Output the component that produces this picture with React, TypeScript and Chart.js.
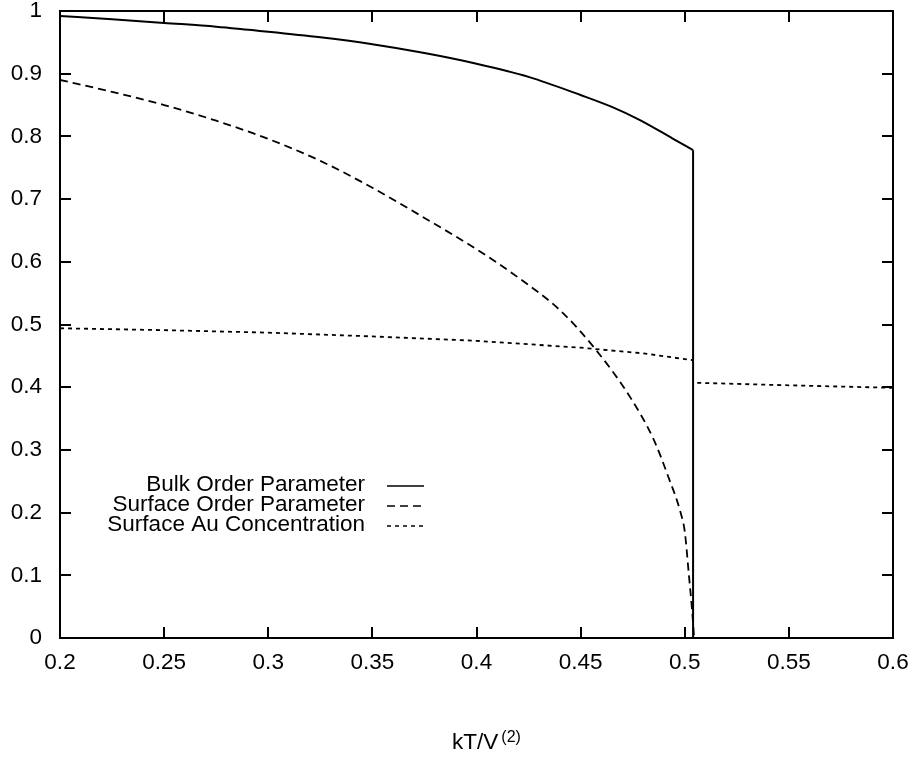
import React, { useEffect, useRef } from "react";
import { Chart, registerables } from "chart.js";

Chart.register(...registerables);

// ---- data ----
const xTicks = [0.2, 0.25, 0.3, 0.35, 0.4, 0.45, 0.5, 0.55, 0.6];
const yTicks = [0, 0.1, 0.2, 0.3, 0.4, 0.5, 0.6, 0.7, 0.8, 0.9, 1];
const seriesNames = [
  "Bulk Order Parameter",
  "Surface Order Parameter",
  "Surface Au Concentration",
];
const xTitle = "kT/V";
const xTitleSup = "(2)";

// bulk order parameter: smooth branch, then the vertical drop at the transition
const bulkX = [0.2, 0.225, 0.25, 0.275, 0.3, 0.325, 0.35, 0.375, 0.4, 0.425, 0.45, 0.465, 0.4785, 0.494, 0.504];
const bulkY = [0.992, 0.987, 0.981, 0.975, 0.967, 0.958, 0.947, 0.933, 0.916, 0.895, 0.866, 0.847, 0.826, 0.797, 0.778];
const bulkDropX = [0.504, 0.504];
const bulkDropY = [0.778, 0];

const surfX = [0.2, 0.225, 0.25, 0.275, 0.3, 0.325, 0.35, 0.375, 0.4, 0.42, 0.44, 0.457, 0.474, 0.485, 0.492, 0.498, 0.5, 0.502, 0.5035, 0.5045];
const surfY = [0.89, 0.871, 0.85, 0.825, 0.796, 0.761, 0.718, 0.67, 0.62, 0.575, 0.523, 0.461, 0.383, 0.317, 0.258, 0.2, 0.17, 0.1, 0.045, 0];

const auX = [0.2, 0.25, 0.3, 0.35, 0.4, 0.45, 0.48, 0.504, 0.505, 0.506, 0.55, 0.6];
const auY = [0.494, 0.491, 0.487, 0.481, 0.474, 0.463, 0.454, 0.443, null, 0.407, 0.403, 0.399];

const FONT = "'Liberation Sans', Arial, Helvetica, sans-serif";
const FS = 22.5;

function pts(xs: number[], ys: (number | null)[]) {
  return xs.map((x, i) => ({ x, y: ys[i] }));
}

const dashes: number[][] = [[], [8, 5], [4, 4]];

const framePlugin = {
  id: "frame",
  afterDraw(chart: any) {
    const { ctx, chartArea, scales } = chart;
    const { left, right, top, bottom } = chartArea;
    const xs = scales.x;
    const ys = scales.y;
    ctx.save();
    ctx.strokeStyle = "#000";
    ctx.lineWidth = 2;
    ctx.setLineDash([]);
    ctx.strokeRect(left, top, right - left, bottom - top);
    const tl = 11;
    ctx.beginPath();
    xTicks.forEach((v) => {
      if (v <= xs.min || v >= xs.max) return;
      const px = Math.round(xs.getPixelForValue(v));
      ctx.moveTo(px, bottom);
      ctx.lineTo(px, bottom - tl);
      ctx.moveTo(px, top);
      ctx.lineTo(px, top + tl);
    });
    yTicks.forEach((v) => {
      if (v <= ys.min || v >= ys.max) return;
      const py = Math.round(ys.getPixelForValue(v));
      ctx.moveTo(left, py);
      ctx.lineTo(left + tl, py);
      ctx.moveTo(right, py);
      ctx.lineTo(right - tl, py);
    });
    ctx.stroke();

    // legend
    ctx.font = `${FS}px ${FONT}`;
    ctx.fillStyle = "#000";
    ctx.textAlign = "right";
    ctx.textBaseline = "middle";
    const lx = 365;
    const rows = [485, 505, 525];
    seriesNames.forEach((name, i) => {
      ctx.fillText(name, lx, rows[i]);
      ctx.beginPath();
      ctx.lineWidth = 1.6;
      ctx.setLineDash(dashes[i]);
      ctx.moveTo(387, rows[i] + 1);
      ctx.lineTo(424, rows[i] + 1);
      ctx.stroke();
    });
    ctx.setLineDash([]);

    // x title with superscript
    const mainFont = `${FS}px ${FONT}`;
    const supFont = `16px ${FONT}`;
    ctx.font = mainFont;
    const w1 = ctx.measureText(xTitle).width;
    ctx.font = supFont;
    const w2 = ctx.measureText(xTitleSup).width;
    const gap = 3;
    const cx = (left + right) / 2 + 10;
    const startX = cx - (w1 + gap + w2) / 2;
    ctx.textAlign = "left";
    ctx.textBaseline = "alphabetic";
    ctx.font = mainFont;
    ctx.fillText(xTitle, startX, 749);
    ctx.font = supFont;
    ctx.fillText(xTitleSup, startX + w1 + gap, 742);
    ctx.restore();
  },
};

export default function App() {
  const ref = useRef<HTMLCanvasElement | null>(null);

  useEffect(() => {
    if (!ref.current) return;
    const common = { pointRadius: 0, borderColor: "#000", fill: false, tension: 0, spanGaps: false };
    const chart = new Chart(ref.current, {
      type: "line",
      data: {
        datasets: [
          { ...common, label: seriesNames[0], data: pts(bulkX, bulkY), borderWidth: 2, cubicInterpolationMode: "monotone" },
          { ...common, label: seriesNames[0] + " (drop)", data: pts(bulkDropX, bulkDropY), borderWidth: 2 },
          { ...common, label: seriesNames[1], data: pts(surfX, surfY), borderWidth: 1.8, borderDash: dashes[1], cubicInterpolationMode: "monotone" },
          { ...common, label: seriesNames[2], data: pts(auX, auY), borderWidth: 1.8, borderDash: dashes[2] },
        ] as any,
      },
      plugins: [framePlugin],
      options: {
        responsive: false,
        animation: false,
        layout: { padding: { top: 11, right: 18, left: 0, bottom: 0 } },
        plugins: { legend: { display: false }, tooltip: { enabled: false } },
        scales: {
          x: {
            type: "linear",
            min: 0.2,
            max: 0.6,
            grid: { display: false, drawTicks: false },
            border: { display: false },
            afterBuildTicks: (s: any) => {
              s.ticks = xTicks.map((v) => ({ value: v }));
            },
            afterFit: (s: any) => {
              s.height = 121;
              s.paddingLeft = 0;
              s.paddingRight = 0;
            },
            ticks: {
              color: "#000",
              font: { family: FONT, size: FS },
              padding: 11,
              maxRotation: 0,
              autoSkip: false,
              callback: (v: any) => String(+Number(v).toFixed(2)),
            },
          },
          y: {
            type: "linear",
            min: 0,
            max: 1,
            grid: { display: false, drawTicks: false },
            border: { display: false },
            afterBuildTicks: (s: any) => {
              s.ticks = yTicks.map((v) => ({ value: v }));
            },
            afterFit: (s: any) => {
              s.width = 60;
              s.paddingTop = 0;
              s.paddingBottom = 0;
            },
            ticks: {
              color: "#000",
              font: { family: FONT, size: FS },
              padding: 18,
              autoSkip: false,
              callback: (v: any) => String(+Number(v).toFixed(1)),
            },
          },
        },
      } as any,
    });
    return () => chart.destroy();
  }, []);

  return (
    <div style={{ position: "absolute", left: 0, top: 0, width: 911, height: 759, background: "#fff" }}>
      <canvas ref={ref} width={911} height={759} style={{ display: "block" }} />
    </div>
  );
}
